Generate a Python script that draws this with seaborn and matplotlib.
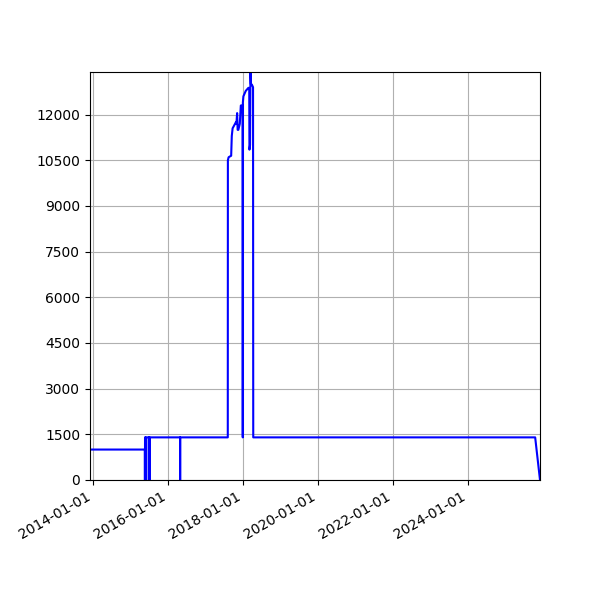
import pandas as pd
import numpy as np
import seaborn as sns
import matplotlib
matplotlib.use('Agg')
import matplotlib.pyplot as plt
import matplotlib.dates as mdates

# breakpoints of the series
dates = ['2013-12-01', '2015-05-19', '2015-05-20', '2015-05-21', '2015-05-25',
         '2015-05-26', '2015-05-27', '2015-06-26', '2015-06-27', '2015-06-28',
         '2015-07-03', '2015-07-04', '2015-07-05', '2016-04-26', '2016-04-27',
         '2016-04-28', '2017-08-04', '2017-08-05', '2017-08-12', '2017-09-06',
         '2017-09-12', '2017-09-20', '2017-09-28', '2017-10-22', '2017-10-27',
         '2017-11-03', '2017-11-08', '2017-11-15', '2017-11-29', '2017-12-09',
         '2017-12-27', '2017-12-28', '2017-12-29', '2018-01-03', '2018-01-26',
         '2018-02-21', '2018-03-01', '2018-03-03', '2018-03-09', '2018-03-13',
         '2018-03-17', '2018-03-26', '2018-04-07', '2018-04-09', '2025-10-15',
         '2025-12-01']
values = [1000, 1000, 0, 1400, 1400,
          0, 1400, 1400, 0, 1400,
          1400, 0, 1400, 1400, 0,
          1400, 1400, 10500, 10600, 10650,
          11300, 11550, 11600, 11750, 11700,
          12050, 11500, 11500, 11700, 12300,
          12300, 1400, 12400, 12600, 12780,
          12880, 12880, 10850, 11000, 13400,
          13000, 12990, 12900, 1400, 1400,
          0]

df = pd.DataFrame({'date': pd.to_datetime(dates), 'value': values})

fig, ax = plt.subplots(figsize=(6, 6), dpi=100)
fig.subplots_adjust(left=0.15, right=0.9, top=0.88, bottom=0.2)

sns.lineplot(data=df, x='date', y='value', color='blue', linewidth=1.5, ax=ax)

ax.set_xlim(df['date'].min(), df['date'].max())
ax.set_ylim(0, df['value'].max())
ax.set_yticks(np.arange(0, 12001, 1500))
ax.xaxis.set_major_locator(mdates.YearLocator(2))
ax.xaxis.set_major_formatter(mdates.DateFormatter('%Y-%m-%d'))
ax.set_xlabel('')
ax.set_ylabel('')
ax.grid(True)
fig.autofmt_xdate()
fig.subplots_adjust(left=0.15, right=0.9, top=0.88, bottom=0.2)

fig.savefig('out.png', dpi=100)
